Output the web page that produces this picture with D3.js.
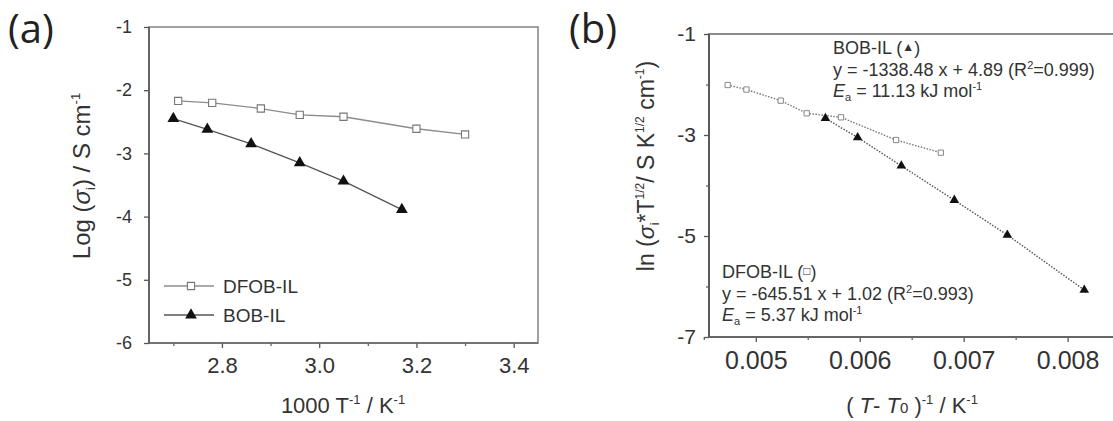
<!DOCTYPE html>
<html>
<head>
<meta charset="utf-8">
<script src="https://cdn.jsdelivr.net/npm/d3@7"></script>
<style>
  body { margin: 0; background: #fff; }
  svg { display: block; font-family: "Liberation Sans", Arial, sans-serif; }
</style>
</head>
<body>
<div id="chart-area"></div>
<script>
// panel (a): Log(sigma) vs 1000/T
var aTicksX = [2.8, 3.0, 3.2, 3.4];
var aTicksY = [-1, -2, -3, -4, -5, -6];
var dfobA_x = [2.71, 2.78, 2.88, 2.96, 3.05, 3.20, 3.30];
var dfobA_y = [-2.17, -2.20, -2.29, -2.39, -2.42, -2.61, -2.70];
var bobA_x = [2.70, 2.77, 2.86, 2.96, 3.05, 3.17];
var bobA_y = [-2.45, -2.62, -2.85, -3.15, -3.44, -3.89];
var legendNames = ["DFOB-IL", "BOB-IL"];

// panel (b): VTF plot
var bTicksX = [0.005, 0.006, 0.007, 0.008];
var bTicksY = [-1, -3, -5, -7];
var dfobB_x = [0.00473, 0.00491, 0.00524, 0.00549, 0.00582, 0.00635, 0.00678];
var dfobB_y = [-2.01, -2.10, -2.32, -2.57, -2.65, -3.10, -3.35];
var bobB_x = [0.00567, 0.00598, 0.00640, 0.00691, 0.00742, 0.00816];
var bobB_y = [-2.67, -3.05, -3.61, -4.29, -4.98, -6.07];

var W = 1113, H = 421;
var svg = d3.select("#chart-area").append("svg")
    .attr("width", W).attr("height", H);

var ink = "#333";

function zip(xs, ys) { return xs.map((x, i) => ({x: x, y: ys[i]})); }

function styleAxis(sel, color, fontSize) {
    sel.select(".domain").remove();
    sel.selectAll(".tick line").attr("stroke", color).attr("stroke-width", 1.3);
    sel.selectAll(".tick text").attr("fill", ink).attr("font-size", fontSize)
        .attr("font-family", "'Liberation Sans', Arial, sans-serif");
}

// ---------- panel (a) ----------
var xa = d3.scaleLinear().domain([2.65, 3.45]).range([149, 538]);
var ya = d3.scaleLinear().domain([-6, -1]).range([343, 27]);

var ga = svg.append("g");

ga.append("rect")
    .attr("x", xa.range()[0]).attr("y", ya.range()[1])
    .attr("width", xa.range()[1] - xa.range()[0])
    .attr("height", ya.range()[0] - ya.range()[1])
    .attr("fill", "none").attr("stroke", "#8a8a8a").attr("stroke-width", 1.6);

// minor ticks
ga.append("g").attr("transform", "translate(0," + ya.range()[0] + ")")
    .call(d3.axisBottom(xa).tickValues([2.7, 2.9, 3.1, 3.3]).tickSize(3).tickFormat(""))
    .call(s => styleAxis(s, "#666", 0));

var axA = ga.append("g").attr("transform", "translate(0," + ya.range()[0] + ")")
    .call(d3.axisBottom(xa).tickValues(aTicksX).tickSize(5).tickPadding(9)
        .tickFormat(d3.format(".1f")));
styleAxis(axA, "#555", 22);

var ayA = ga.append("g").attr("transform", "translate(" + xa.range()[0] + ",0)")
    .call(d3.axisLeft(ya).tickValues(aTicksY).tickSize(5).tickPadding(12)
        .tickFormat(d => d3.format("d")(d).replace("−", "-")));
styleAxis(ayA, "#555", 18);

// darker left and bottom spines
ga.append("line").attr("x1", xa.range()[0]).attr("x2", xa.range()[0])
    .attr("y1", ya.range()[0]).attr("y2", ya.range()[1])
    .attr("stroke", "#555").attr("stroke-width", 1.6);
ga.append("line").attr("x1", xa.range()[0]).attr("x2", xa.range()[1])
    .attr("y1", ya.range()[0]).attr("y2", ya.range()[0])
    .attr("stroke", "#666").attr("stroke-width", 1.6);

var lineA = d3.line().x(d => xa(d.x)).y(d => ya(d.y));
var dfobA = zip(dfobA_x, dfobA_y), bobA = zip(bobA_x, bobA_y);

ga.append("path").datum(dfobA).attr("d", lineA)
    .attr("fill", "none").attr("stroke", "#8c8c8c").attr("stroke-width", 1.3);
ga.append("path").datum(bobA).attr("d", lineA)
    .attr("fill", "none").attr("stroke", "#555").attr("stroke-width", 1.3);

var sq = d3.symbol().type(d3.symbolSquare).size(52);
var tri = d3.symbol().type(d3.symbolTriangle).size(60);

ga.selectAll(".sqA").data(dfobA).join("path")
    .attr("transform", d => "translate(" + xa(d.x) + "," + ya(d.y) + ")")
    .attr("d", sq).attr("fill", "#fff").attr("stroke", "#777").attr("stroke-width", 1.1);
ga.selectAll(".trA").data(bobA).join("path")
    .attr("transform", d => "translate(" + xa(d.x) + "," + ya(d.y) + ")")
    .attr("d", tri).attr("fill", "#111");

// legend
var legA = ga.append("g");
legendNames.forEach(function(name, i) {
    var yy = 286 + i * 29;
    legA.append("line").attr("x1", 164).attr("x2", 214).attr("y1", yy).attr("y2", yy)
        .attr("stroke", i == 0 ? "#8c8c8c" : "#555").attr("stroke-width", 1.3);
    legA.append("path").attr("transform", "translate(191," + yy + ")")
        .attr("d", i == 0 ? sq : tri)
        .attr("fill", i == 0 ? "#fff" : "#111")
        .attr("stroke", i == 0 ? "#777" : "none").attr("stroke-width", 1.1);
    legA.append("text").attr("x", 223).attr("y", yy).attr("dy", "0.36em")
        .attr("font-size", 19).attr("fill", ink).text(name);
});

// axis titles (a)
var xtA = ga.append("text").attr("x", 343).attr("y", 413)
    .attr("text-anchor", "middle").attr("font-size", 22).attr("fill", ink);
xtA.append("tspan").text("1000 T");
xtA.append("tspan").attr("dy", -9).attr("font-size", 13).text("-1");
xtA.append("tspan").attr("dy", 9).text(" / K");
xtA.append("tspan").attr("dy", -9).attr("font-size", 13).text("-1");

var ytA = ga.append("text").attr("transform", "translate(90,176) rotate(-90)")
    .attr("text-anchor", "middle").attr("font-size", 24).attr("fill", ink);
ytA.append("tspan").text("Log (");
ytA.append("tspan").attr("font-style", "italic").text("σ");
ytA.append("tspan").attr("dy", 5).attr("font-size", 13).text("i");
ytA.append("tspan").attr("dy", -5).text(") / S cm");
ytA.append("tspan").attr("dy", -10).attr("font-size", 13).text("-1");

ga.append("text").attr("x", 8).attr("y", 43)
    .attr("font-family", "'Open Sans', sans-serif").attr("font-size", 40)
    .attr("fill", "#222").text("(a)");

// ---------- panel (b) ----------
var xb = d3.scaleLinear().domain([0.00455, 0.0086]).range([709, 1130]);
var yb = d3.scaleLinear().domain([-7, -1]).range([337, 34]);

var gb = svg.append("g");

gb.append("rect")
    .attr("x", xb.range()[0]).attr("y", yb.range()[1])
    .attr("width", xb.range()[1] - xb.range()[0])
    .attr("height", yb.range()[0] - yb.range()[1])
    .attr("fill", "none").attr("stroke", "#8a8a8a").attr("stroke-width", 2);

gb.append("g").attr("transform", "translate(0," + yb.range()[0] + ")")
    .call(d3.axisBottom(xb).tickValues([0.0045, 0.0055, 0.0065, 0.0075, 0.0085]).tickSize(3).tickFormat(""))
    .call(s => styleAxis(s, "#666", 0));
gb.append("g").attr("transform", "translate(" + xb.range()[0] + ",0)")
    .call(d3.axisLeft(yb).tickValues([-2, -4, -6]).tickSize(3).tickFormat(""))
    .call(s => styleAxis(s, "#666", 0));

var axB = gb.append("g").attr("transform", "translate(0," + yb.range()[0] + ")")
    .call(d3.axisBottom(xb).tickValues(bTicksX).tickSize(5).tickPadding(9)
        .tickFormat(d3.format(".3f")));
styleAxis(axB, "#555", 25);

var ayB = gb.append("g").attr("transform", "translate(" + xb.range()[0] + ",0)")
    .call(d3.axisLeft(yb).tickValues(bTicksY).tickSize(5).tickPadding(8)
        .tickFormat(d => d3.format("d")(d).replace("−", "-")));
styleAxis(ayB, "#555", 21);

gb.append("line").attr("x1", xb.range()[0]).attr("x2", xb.range()[0])
    .attr("y1", yb.range()[0]).attr("y2", yb.range()[1])
    .attr("stroke", "#555").attr("stroke-width", 1.8);
gb.append("line").attr("x1", xb.range()[0]).attr("x2", W)
    .attr("y1", yb.range()[0]).attr("y2", yb.range()[0])
    .attr("stroke", "#666").attr("stroke-width", 1.8);

var lineB = d3.line().x(d => xb(d.x)).y(d => yb(d.y));
var dfobB = zip(dfobB_x, dfobB_y), bobB = zip(bobB_x, bobB_y);

gb.append("path").datum(dfobB).attr("d", lineB)
    .attr("fill", "none").attr("stroke", "#777").attr("stroke-width", 1.4)
    .attr("stroke-dasharray", "1.5,1.5");
gb.append("path").datum(bobB).attr("d", lineB)
    .attr("fill", "none").attr("stroke", "#555").attr("stroke-width", 1.4)
    .attr("stroke-dasharray", "1.5,1.5");

var sqB = d3.symbol().type(d3.symbolSquare).size(28);
var triB = d3.symbol().type(d3.symbolTriangle).size(40);

gb.selectAll(".sqB").data(dfobB).join("path")
    .attr("transform", d => "translate(" + xb(d.x) + "," + yb(d.y) + ")")
    .attr("d", sqB).attr("fill", "#fff").attr("stroke", "#888").attr("stroke-width", 1);
gb.selectAll(".trB").data(bobB).join("path")
    .attr("transform", d => "translate(" + xb(d.x) + "," + yb(d.y) + ")")
    .attr("d", triB).attr("fill", "#111");

// annotations
function fitBlock(x, y0, name, mark, eq, r2, ea) {
    var t1 = gb.append("text").attr("x", x).attr("y", y0).attr("font-size", 18).attr("fill", ink);
    t1.append("tspan").text(name + " (");
    t1.append("tspan").attr("font-size", 12).attr("dy", -3).text(mark);
    t1.append("tspan").attr("dy", 3).text(")");
    var t2 = gb.append("text").attr("x", x).attr("y", y0 + 22).attr("font-size", 18).attr("fill", ink);
    t2.append("tspan").text(eq + " (R");
    t2.append("tspan").attr("dy", -7).attr("font-size", 11).text("2");
    t2.append("tspan").attr("dy", 7).text("=" + r2 + ")");
    var t3 = gb.append("text").attr("x", x).attr("y", y0 + 43).attr("font-size", 18).attr("fill", ink);
    t3.append("tspan").attr("font-style", "italic").text("E");
    t3.append("tspan").attr("dy", 4).attr("font-size", 11).text("a");
    t3.append("tspan").attr("dy", -4).text(" = " + ea + " kJ mol");
    t3.append("tspan").attr("dy", -7).attr("font-size", 11).text("-1");
}
fitBlock(833, 54, "BOB-IL", "▲", "y = -1338.48 x + 4.89", "0.999", "11.13");
fitBlock(722, 278, "DFOB-IL", "□", "y = -645.51 x + 1.02", "0.993", "5.37");

// axis titles (b)
var xtB = gb.append("text").attr("x", 912).attr("y", 413)
    .attr("text-anchor", "middle").attr("font-size", 22).attr("fill", ink);
xtB.append("tspan").text("( ");
xtB.append("tspan").attr("font-style", "italic").text("T");
xtB.append("tspan").text("- ");
xtB.append("tspan").attr("font-style", "italic").text("T");
xtB.append("tspan").attr("font-size", 15).text("0");
xtB.append("tspan").text(" )");
xtB.append("tspan").attr("dy", -9).attr("font-size", 13).text("-1");
xtB.append("tspan").attr("dy", 9).text(" / K");
xtB.append("tspan").attr("dy", -9).attr("font-size", 13).text("-1");

var ytB = gb.append("text").attr("transform", "translate(654,166) rotate(-90)")
    .attr("text-anchor", "middle").attr("font-size", 23).attr("fill", ink);
ytB.append("tspan").text("ln (");
ytB.append("tspan").attr("font-style", "italic").text("σ");
ytB.append("tspan").attr("dy", 5).attr("font-size", 13).text("i");
ytB.append("tspan").attr("dy", -5).text("*T");
ytB.append("tspan").attr("dy", -10).attr("font-size", 12).text("1/2");
ytB.append("tspan").attr("dy", 10).text("/ S K");
ytB.append("tspan").attr("dy", -10).attr("font-size", 12).text("1/2");
ytB.append("tspan").attr("dy", 10).text(" cm");
ytB.append("tspan").attr("dy", -10).attr("font-size", 12).text("-1");
ytB.append("tspan").attr("dy", 10).text(")");

gb.append("text").attr("x", 569).attr("y", 43)
    .attr("font-family", "'Open Sans', sans-serif").attr("font-size", 40)
    .attr("fill", "#222").text("(b)");
</script>
</body>
</html>
